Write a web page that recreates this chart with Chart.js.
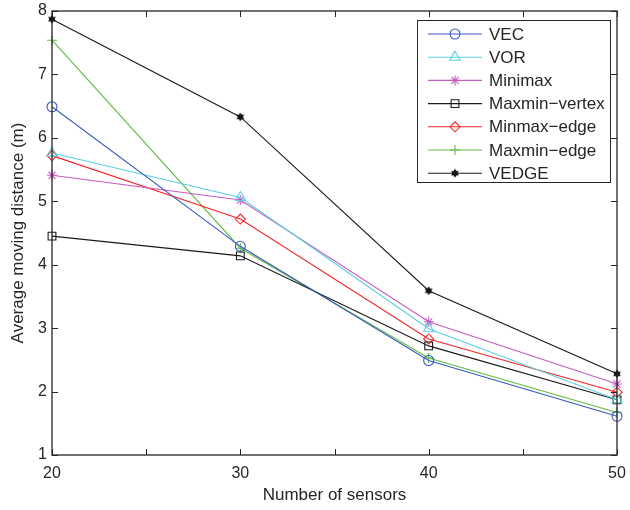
<!DOCTYPE html>
<html>
<head>
<meta charset="utf-8">
<script src="https://cdn.jsdelivr.net/npm/chart.js@4.4.1/dist/chart.umd.min.js"></script>
<style>
  html, body { margin: 0; padding: 0; background: #fff; }
  #wrap { width: 630px; height: 510px; }
</style>
</head>
<body>
<div id="wrap"><canvas id="chart" width="630" height="510"></canvas></div>
<script>
// -------------------- Data --------------------
const sensors = [20, 30, 40, 50];
const vec          = [6.49, 4.29, 2.49, 1.61];
const vor          = [5.76, 5.06, 2.99, 1.87];
const minimax      = [5.41, 5.02, 3.10, 2.12];
const maxminVertex = [4.45, 4.14, 2.72, 1.87];
const minmaxEdge   = [5.72, 4.72, 2.83, 1.99];
const maxminEdge   = [7.54, 4.26, 2.53, 1.67];
const vedge        = [7.87, 6.33, 3.59, 2.28];

const xTicks = [20, 25, 30, 35, 40, 45, 50];
const yTicks = [1, 2, 3, 4, 5, 6, 7, 8];

const FONT = "'Liberation Sans', Arial, Helvetica, sans-serif";
const TEXT = "#262626";

// hexagram marker for VEDGE
function hexagram(size) {
  const c = document.createElement("canvas");
  c.width = size; c.height = size;
  const g = c.getContext("2d");
  const r = size / 2, cx = r, cy = r;
  g.fillStyle = "#111";
  for (const rot of [-Math.PI / 2, Math.PI / 2]) {
    g.beginPath();
    for (let i = 0; i < 3; i++) {
      const a = rot + i * 2 * Math.PI / 3;
      const px = cx + (r - 0.5) * Math.cos(a), py = cy + (r - 0.5) * Math.sin(a);
      i ? g.lineTo(px, py) : g.moveTo(px, py);
    }
    g.closePath();
    g.fill();
  }
  return c;
}

function series(label, values, color, style, radius) {
  return {
    label: label,
    data: sensors.map((x, i) => ({ x: x, y: values[i] })),
    borderColor: color,
    backgroundColor: "rgba(0,0,0,0)",
    borderWidth: 1.1,
    pointStyle: style,
    pointRadius: radius,
    pointBorderWidth: 1.1,
    pointBorderColor: color,
    pointBackgroundColor: "rgba(0,0,0,0)",
    tension: 0,
    clip: false,
  };
}

const datasets = [
  series("VEC", vec, "#3a5bbd", "circle", 5),
  series("VOR", vor, "#5ccfe0", "triangle", 6),
  series("Minimax", minimax, "#c65cc0", "star", 5),
  series("Maxmin\u2212vertex", maxminVertex, "#1a1a1a", "rect", 5.5),
  series("Minmax\u2212edge", minmaxEdge, "#f0282a", "rectRot", 5),
  series("Maxmin\u2212edge", maxminEdge, "#62bb46", "cross", 5),
  series("VEDGE", vedge, "#1a1a1a", hexagram(10), 5),
];

// -------------------- Axes frame with inward ticks --------------------
const framePlugin = {
  id: "frame",
  afterDatasetsDraw(chart) {
    const { ctx, chartArea: a, scales } = chart;
    ctx.save();
    ctx.strokeStyle = "#262626";
    ctx.lineWidth = 1.3;
    ctx.strokeRect(a.left, a.top, a.right - a.left, a.bottom - a.top);
    ctx.lineWidth = 1;
    ctx.beginPath();
    xTicks.forEach(v => {
      const x = Math.round(scales.x.getPixelForValue(v)) + 0.5;
      ctx.moveTo(x, a.bottom); ctx.lineTo(x, a.bottom - 6);
      ctx.moveTo(x, a.top); ctx.lineTo(x, a.top + 6);
    });
    yTicks.forEach(v => {
      const y = Math.round(scales.y.getPixelForValue(v)) + 0.5;
      ctx.moveTo(a.left, y); ctx.lineTo(a.left + 6, y);
      ctx.moveTo(a.right, y); ctx.lineTo(a.right - 6, y);
    });
    ctx.stroke();
    ctx.restore();
  },
};

// -------------------- Legend box inside plot --------------------
const legendPlugin = {
  id: "boxLegend",
  afterDraw(chart) {
    const { ctx, chartArea: a } = chart;
    const right = a.right - 7, top = a.top + 9;
    const left = right - 193, bottom = top + 162;
    ctx.save();
    ctx.fillStyle = "#fff";
    ctx.fillRect(left, top, right - left, bottom - top);
    ctx.strokeStyle = "#262626";
    ctx.lineWidth = 1;
    ctx.strokeRect(left + 0.5, top + 0.5, right - left, bottom - top);
    ctx.font = "17px " + FONT;
    ctx.textBaseline = "middle";
    chart.data.datasets.forEach((ds, i) => {
      const y = top + 14 + i * 23.2;
      ctx.strokeStyle = ds.borderColor;
      ctx.lineWidth = 1.1;
      ctx.beginPath();
      ctx.moveTo(left + 11, y); ctx.lineTo(left + 65, y);
      ctx.stroke();
      ctx.fillStyle = "rgba(0,0,0,0)";
      Chart.helpers.drawPoint(ctx, {
        pointStyle: ds.pointStyle, radius: ds.pointRadius, rotation: 0,
        borderWidth: ds.pointBorderWidth,
      }, left + 38, y);
      ctx.fillStyle = TEXT;
      ctx.fillText(ds.label, left + 72, y + 1);
    });
    ctx.restore();
  },
};

// -------------------- Chart --------------------
const ctx = document.getElementById("chart").getContext("2d");
const chart = new Chart(ctx, {
  type: "line",
  data: { datasets: datasets },
  plugins: [framePlugin, legendPlugin],
  options: {
    responsive: false,
    animation: false,
    layout: { padding: { left: 0, right: 13, top: 11, bottom: 0 } },
    plugins: { legend: { display: false }, tooltip: { enabled: false } },
    scales: {
      x: {
        type: "linear",
        min: 20, max: 50,
        afterBuildTicks: s => { s.ticks = xTicks.map(v => ({ value: v })); },
        afterFit: s => { s.height = 55; s.paddingLeft = 0; s.paddingRight = 0; },
        grid: { display: false, drawTicks: false },
        border: { display: false },
        ticks: {
          padding: 9,
          color: TEXT,
          font: { family: FONT, size: 16 },
          maxRotation: 0,
          autoSkip: false,
          callback: v => (v % 10 === 0 ? v : ""),
        },
        title: {
          display: true,
          text: "Number of sensors",
          color: TEXT,
          font: { family: FONT, size: 17 },
          padding: { top: 0, bottom: 4 },
        },
      },
      y: {
        min: 1, max: 8,
        afterBuildTicks: s => { s.ticks = yTicks.map(v => ({ value: v })); },
        afterFit: s => { s.width = 52; s.paddingTop = 0; s.paddingBottom = 0; },
        grid: { display: false, drawTicks: false },
        border: { display: false },
        ticks: {
          padding: 5,
          color: TEXT,
          font: { family: FONT, size: 16 },
        },
        title: {
          display: true,
          text: "Average moving distance (m)",
          color: TEXT,
          font: { family: FONT, size: 17 },
          padding: { top: 8, bottom: 0 },
        },
      },
    },
  },
});
</script>
</body>
</html>
